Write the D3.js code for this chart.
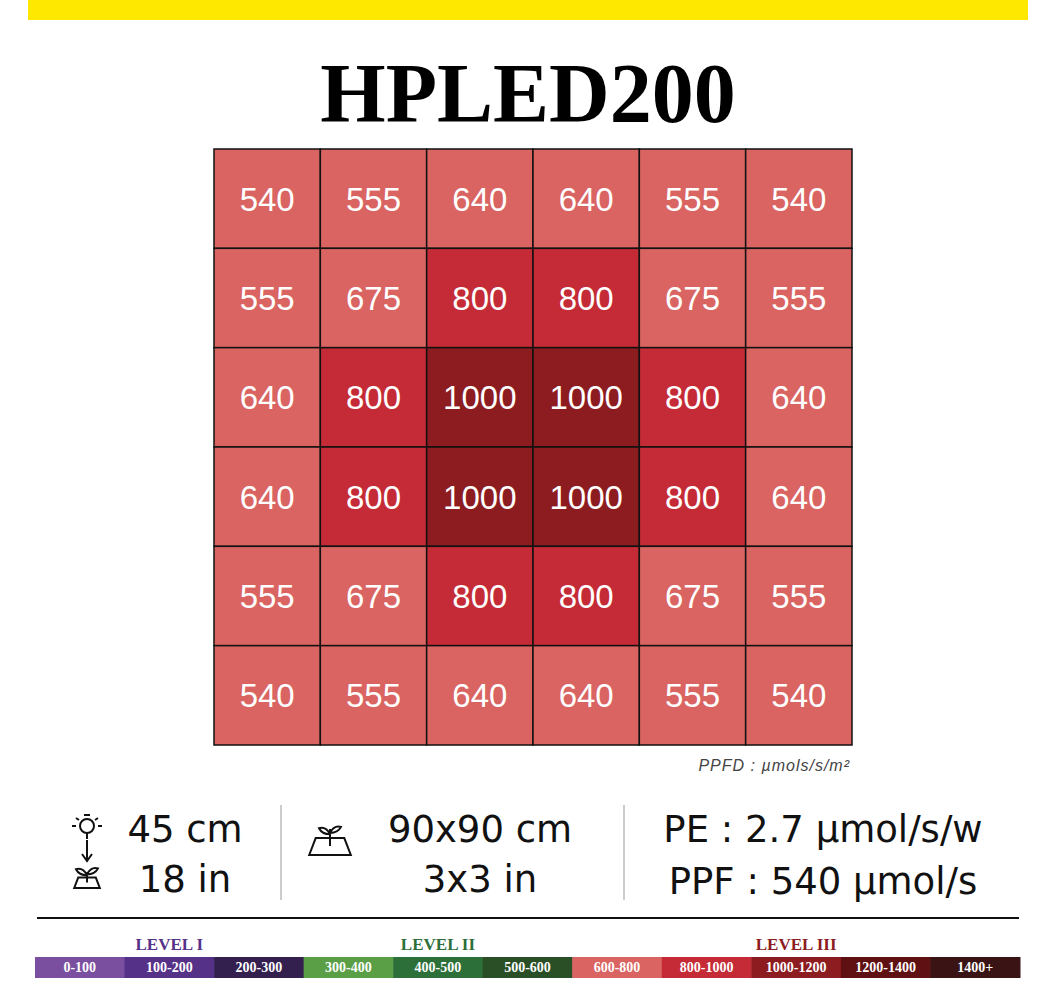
<!DOCTYPE html><html><head><meta charset="utf-8"><script src="https://cdn.jsdelivr.net/npm/d3@7"></script>
<style>body{margin:0;background:#fff}</style></head><body><svg id="c" width="1056" height="1000"></svg><script>
const rows=[[540,555,640,640,555,540],[555,675,800,800,675,555],[640,800,1000,1000,800,640],[640,800,1000,1000,800,640],[555,675,800,800,675,555],[540,555,640,640,555,540]];
const legendLabels=["0-100","100-200","200-300","300-400","400-500","500-600","600-800","800-1000","1000-1200","1200-1400","1400+"];
const legendColors=["#7b4fa0","#553287","#33204f","#5a9e46","#2d6f38","#2a4f26","#d96462","#c42b36","#8c1c1f","#5e1012","#3a1414"];
const levels=[{t:"LEVEL I",i:1,c:"#553287"},{t:"LEVEL II",i:4,c:"#2d6f38"},{t:"LEVEL III",i:8,c:"#8c1c1f"}];
const color=v=>v>=1000?"#8c1c1f":v>=800?"#c42b36":"#d96462";
const svg=d3.select("#c");
svg.append("rect").attr("x",28).attr("y",0).attr("width",1000).attr("height",20).attr("fill","#ffe800");
svg.append("text").attr("x",528).attr("y",122).attr("text-anchor","middle").attr("font-family","Liberation Sans Narrow").attr("font-weight","bold").attr("font-size",84).text("HPLED200");
const x=d3.scaleBand().domain(d3.range(6)).range([214,852]);
const y=d3.scaleBand().domain(d3.range(6)).range([149,745]);
rows.forEach((r,i)=>r.forEach((v,j)=>{
 svg.append("rect").attr("x",x(j)).attr("y",y(i)).attr("width",x.bandwidth()).attr("height",y.bandwidth()).attr("fill",color(v)).attr("stroke","#111").attr("stroke-width",1.5);
 svg.append("text").attr("x",x(j)+x.bandwidth()/2).attr("y",y(i)+y.bandwidth()/2+12).attr("text-anchor","middle").attr("fill","#fff").attr("font-family","Liberation Sans").attr("font-size",33).text(v);
}));
svg.append("text").attr("x",850).attr("y",771).attr("text-anchor","end").attr("font-family","Liberation Sans").attr("font-style","italic").attr("font-size",16).attr("fill","#444").attr("letter-spacing",1).text("PPFD : µmols/s/m²");
const T=(t,xx,yy,a="middle")=>svg.append("text").attr("x",xx).attr("y",yy).attr("text-anchor",a).attr("font-family","DejaVu Sans").attr("font-size",37).attr("fill","#111").text(t);
T("45 cm",185,842);T("18 in",185,892);T("90x90 cm",480,842);T("3x3 in",480,892);T("PE : 2.7 µmol/s/w",823,842);T("PPF : 540 µmol/s",823,894);
[[281,805,900],[624,805,900]].forEach(d=>svg.append("line").attr("x1",d[0]).attr("x2",d[0]).attr("y1",d[1]).attr("y2",d[2]).attr("stroke","#999"));
// icons
const ic=svg.append("g").attr("fill","none").attr("stroke","#111").attr("stroke-width",2);
ic.append("circle").attr("cx",87).attr("cy",826).attr("r",7);
ic.append("path").attr("d","M84,815h6M87,833v6M72,826h4M98,826h4M76,818l3,2M98,818l-3,2");
ic.append("path").attr("d","M87,840v20M82,854l5,7l5,-7");
const plant=(g,cx,by,s)=>{g.append("path").attr("d",`M${cx-16*s},${by} L${cx-11*s},${by-13*s} H${cx+11*s} L${cx+16*s},${by} Z M${cx},${by-7*s} V${by-20*s} M${cx},${by-16*s} q-4,-8 -11,-6 q3,6 11,6 M${cx},${by-17*s} q4,-8 11,-6 q-3,6 -11,6`);};
plant(ic,87,888,0.8);plant(ic,330,855,1.3);
svg.append("line").attr("x1",37).attr("x2",1019).attr("y1",918).attr("y2",918).attr("stroke","#111").attr("stroke-width",2);
const lx=d3.scaleBand().domain(d3.range(11)).range([35,1020]);
legendLabels.forEach((l,i)=>{
 svg.append("rect").attr("x",lx(i)).attr("y",957).attr("width",lx.bandwidth()+0.5).attr("height",21).attr("fill",legendColors[i]);
 svg.append("text").attr("x",lx(i)+lx.bandwidth()/2).attr("y",972).attr("text-anchor","middle").attr("fill","#fff").attr("font-family","Liberation Sans Narrow").attr("font-weight","bold").attr("font-size",14).text(l);
});
levels.forEach(l=>svg.append("text").attr("x",lx(l.i)+lx.bandwidth()/2).attr("y",950).attr("text-anchor","middle").attr("fill",l.c).attr("font-family","Liberation Sans Narrow").attr("font-weight","bold").attr("font-size",17).text(l.t));
</script></body></html>
